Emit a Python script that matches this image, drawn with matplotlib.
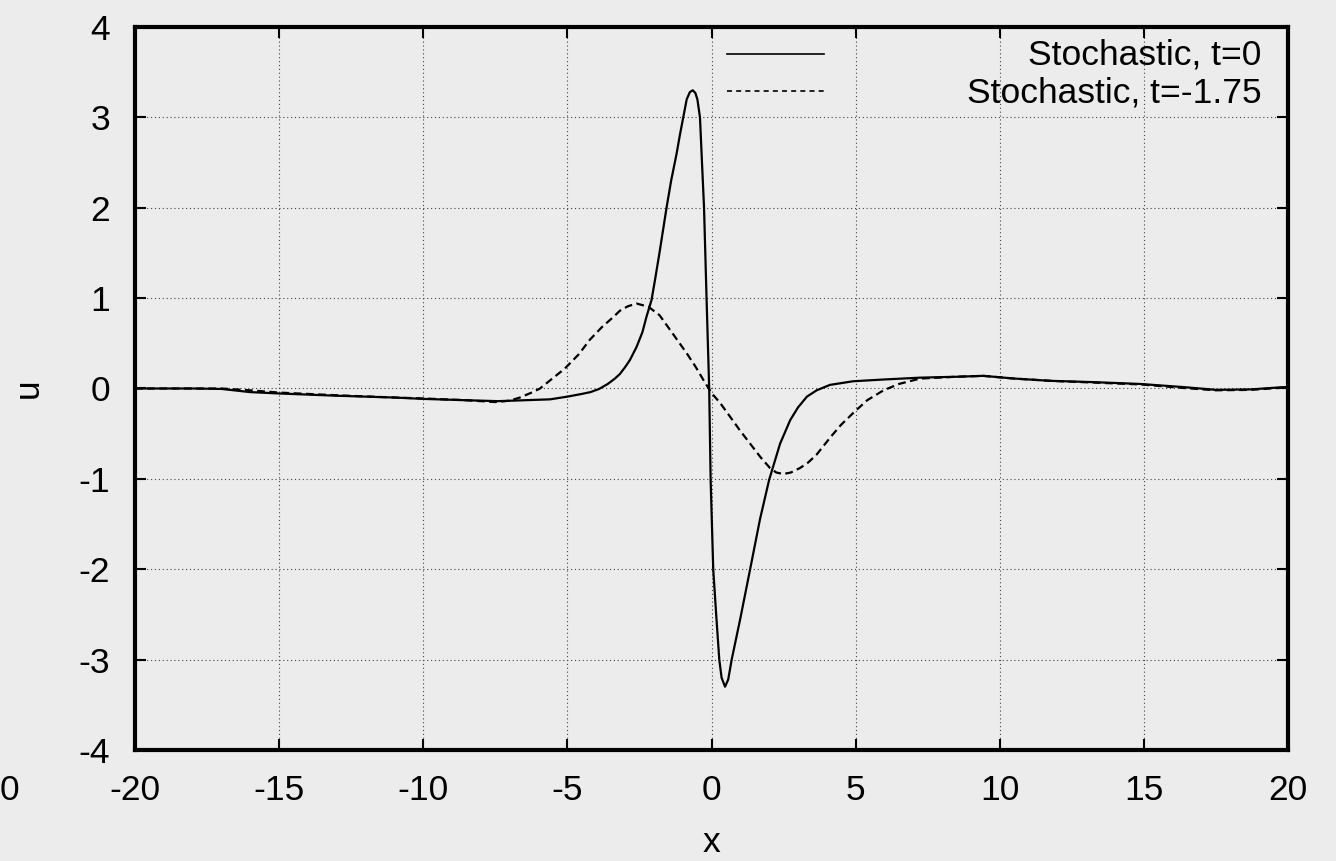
import matplotlib
matplotlib.use("Agg")
import matplotlib.pyplot as plt

plt.rcParams["font.family"] = ["Liberation Sans", "DejaVu Sans"]
plt.rcParams["axes.unicode_minus"] = False

# t = 0 curve
x_t0 = [-20, -18, -17, -16, -15, -13, -11, -10, -8.5, -7.4, -6.5, -5.6, -5.0,
        -4.5, -4.2, -3.9, -3.6, -3.35, -3.18, -3.0, -2.83, -2.6, -2.4, -2.25,
        -2.08, -1.95, -1.79, -1.56, -1.4, -1.21, -1.1, -0.98, -0.86, -0.75,
        -0.65, -0.56, -0.49, -0.40, -0.33, -0.26, -0.17, -0.08, -0.03, 0.06,
        0.16, 0.27, 0.35, 0.47, 0.58, 0.70, 0.99, 1.34, 1.68, 2.0, 2.38, 2.73,
        3.0, 3.31, 3.65, 4.11, 4.91, 6, 7.24, 8.5, 9.43, 10.5, 11.75, 13.3,
        14.88, 16.4, 17.5, 18.7, 19.85, 20]
u_t0 = [0.0, 0.0, -0.005, -0.04, -0.055, -0.08, -0.1, -0.115, -0.13, -0.14,
        -0.13, -0.12, -0.09, -0.06, -0.04, -0.005, 0.05, 0.11, 0.16, 0.235,
        0.315, 0.46, 0.62, 0.8, 0.98, 1.22, 1.53, 2.0, 2.3, 2.6, 2.8, 3.0,
        3.2, 3.28, 3.30, 3.27, 3.2, 3.0, 2.5, 2.01, 0.98, 0.0, -1.01, -2.0,
        -2.49, -3.0, -3.2, -3.30, -3.22, -3.0, -2.56, -2.0, -1.45, -1.01,
        -0.61, -0.35, -0.21, -0.09, -0.02, 0.04, 0.08, 0.1, 0.12, 0.13, 0.14,
        0.11, 0.085, 0.07, 0.05, 0.015, -0.015, -0.01, 0.015, 0.015]

# t = -1.75 curve
x_t1 = [-20, -17, -16, -15, -13, -11, -10, -8.5, -7.5, -7.0, -6.65, -6.2,
        -5.95, -5.6, -5.09, -4.6, -4.22, -3.8, -3.41, -3.18, -2.9, -2.6,
        -2.19, -1.8, -1.44, -1.15, -0.86, -0.55, -0.28, 0.0, 0.3, 0.64, 1.0,
        1.34, 1.7, 2.03, 2.25, 2.49, 2.75, 3.07, 3.35, 3.65, 4.15, 4.5, 4.92,
        5.4, 5.97, 6.5, 7.24, 8.5, 9.43, 10.5, 11.75, 13.3, 14.88, 16.4, 17.5,
        18.7, 19.85, 20]
u_t1 = [0.0, 0.0, -0.02, -0.045, -0.075, -0.1, -0.11, -0.13, -0.15, -0.135,
        -0.1, -0.04, 0.0, 0.09, 0.22, 0.38, 0.54, 0.68, 0.79, 0.86, 0.91,
        0.94, 0.905, 0.81, 0.65, 0.52, 0.39, 0.24, 0.094, -0.05, -0.16, -0.31,
        -0.47, -0.61, -0.76, -0.88, -0.93, -0.946, -0.93, -0.88, -0.82, -0.73,
        -0.53, -0.4, -0.27, -0.13, -0.02, 0.05, 0.11, 0.13, 0.14, 0.11, 0.085,
        0.065, 0.045, 0.005, -0.02, -0.015, 0.01, 0.01]

labels = ["Stochastic, t=0", "Stochastic, t=-1.75"]

fs = 25.5
bg = "#ececec"
dash = (0, (3.5, 2))

fig = plt.figure(figsize=(13.36, 8.61), dpi=100, facecolor=bg)
ax = fig.add_axes([135 / 1336, 1 - 750 / 861, 1153 / 1336, 723 / 861])
ax.set_facecolor(bg)

ax.plot(x_t0, u_t0, color="black", lw=1.6)
ax.plot(x_t1, u_t1, color="black", lw=1.6, linestyle=dash)

ax.set_xlim(-20, 20)
ax.set_ylim(-4, 4)
ax.set_xticks(range(-20, 21, 5))
ax.set_yticks(range(-4, 5))

ax.grid(True, color="#444444", lw=0.8, linestyle=(0, (1, 2.5)))
for s in ax.spines.values():
    s.set_linewidth(3)

ax.tick_params(direction="in", length=8, width=1.5, top=True, right=True,
               labelsize=fs)
ax.tick_params(axis="x", pad=17)
ax.tick_params(axis="y", pad=18)

ax.set_xlabel("x", fontsize=fs, labelpad=14)
ax.set_ylabel("u", fontsize=fs, labelpad=24)

# gnuplot-style key: sample on the left, right-justified text
sample_y = [0.9627, 0.9115]
text_y = [0.948, 0.895]
sample_ls = ["-", (0, (3, 2.5))]
for sy, ty, ls, lab in zip(sample_y, text_y, sample_ls, labels):
    ax.plot([0.5134, 0.598], [sy, sy], transform=ax.transAxes,
            color="black", lw=1.2, linestyle=ls, clip_on=False)
    ax.text(0.977, ty, lab, transform=ax.transAxes, ha="right",
            va="baseline", fontsize=fs)

# stray clipped label at the left edge
fig.text(0, 1 - 800 / 861, "0", ha="left", va="baseline", fontsize=fs)

fig.savefig("out.png", dpi=100, facecolor=bg)
